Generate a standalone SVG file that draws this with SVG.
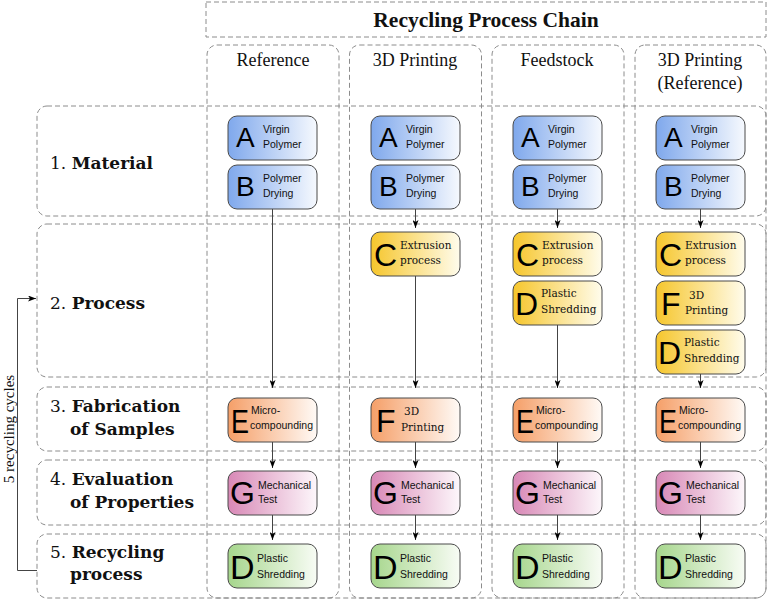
<svg xmlns="http://www.w3.org/2000/svg" width="768" height="600" viewBox="0 0 768 600">
<defs>
<style>
.box{fill:none;stroke:#8c8c8c;stroke-width:1;stroke-dasharray:5 3}
.nd{stroke:#4a4a4a;stroke-width:1}
.big{font-family:"Liberation Sans",Arial,sans-serif;fill:#000}
.sl{font-family:"Liberation Sans",Arial,sans-serif;font-size:10.5px;fill:#111}
.sr{font-family:"DejaVu Serif",serif;font-size:10.5px;fill:#111}
.hd{font-family:"Liberation Serif","Times New Roman",serif;font-size:18px;fill:#111;text-anchor:middle}
.rl{font-family:"DejaVu Serif",serif;font-size:17px;fill:#111}
.b{font-weight:bold}
.conn line,.conn path{stroke:#444;stroke-width:1;fill:none;marker-end:url(#ah)}
</style>
<marker id="ah" viewBox="0 0 8 6" refX="8" refY="3" markerWidth="8" markerHeight="6" markerUnits="userSpaceOnUse" orient="auto">
<path d="M0,0 L8,3 L0,6 L2,3 z" fill="#000"/>
</marker>
<linearGradient id="gB" x1="0" y1="0" x2="1" y2="0"><stop offset="0" stop-color="#7fa8ec"/><stop offset="1" stop-color="#f6f9fe"/></linearGradient>
<linearGradient id="gY" x1="0" y1="0" x2="1" y2="0"><stop offset="0" stop-color="#f6c62c"/><stop offset="1" stop-color="#fffcec"/></linearGradient>
<linearGradient id="gO" x1="0" y1="0" x2="1" y2="0"><stop offset="0" stop-color="#f59f68"/><stop offset="1" stop-color="#fffaf6"/></linearGradient>
<linearGradient id="gP" x1="0" y1="0" x2="1" y2="0"><stop offset="0" stop-color="#d888b6"/><stop offset="1" stop-color="#fdf7fb"/></linearGradient>
<linearGradient id="gG" x1="0" y1="0" x2="1" y2="0"><stop offset="0" stop-color="#a6d68c"/><stop offset="1" stop-color="#f8fcf5"/></linearGradient>
</defs>
<rect width="768" height="600" fill="#fff"/>

<g id="frames">
<rect class="box" x="206" y="2" width="560" height="35"/>
<rect class="box" x="207" y="45" width="132" height="553" rx="10"/>
<rect class="box" x="349.5" y="45" width="132" height="553" rx="10"/>
<rect class="box" x="492" y="45" width="132" height="553" rx="10"/>
<rect class="box" x="635" y="45" width="131" height="553" rx="10"/>
<rect class="box" x="37" y="106" width="729" height="110" rx="10"/>
<rect class="box" x="37" y="224" width="729" height="153" rx="10"/>
<rect class="box" x="37" y="387" width="729" height="64" rx="10"/>
<rect class="box" x="37" y="460" width="729" height="65" rx="10"/>
<rect class="box" x="37" y="534" width="729" height="64" rx="10"/>
</g>

<g id="headers">
<text x="486" y="27" font-family="'Liberation Serif','Times New Roman',serif" font-size="21.5" font-weight="bold" text-anchor="middle" fill="#111">Recycling Process Chain</text>
<text class="hd" x="273" y="66">Reference</text>
<text class="hd" x="415" y="66">3D Printing</text>
<text class="hd" x="557" y="66">Feedstock</text>
<text class="hd" x="700" y="66">3D Printing</text>
<text class="hd" x="700" y="89">(Reference)</text>
</g>

<g id="rowlabels">
<text class="rl" x="50" y="169">1. <tspan class="b">Material</tspan></text>
<text class="rl" x="50" y="309">2. <tspan class="b">Process</tspan></text>
<text class="rl" x="50" y="412">3. <tspan class="b">Fabrication</tspan></text>
<text class="rl b" x="70" y="435">of Samples</text>
<text class="rl" x="50" y="485">4. <tspan class="b">Evaluation</tspan></text>
<text class="rl b" x="70" y="508">of Properties</text>
<text class="rl" x="50" y="558">5. <tspan class="b">Recycling</tspan></text>
<text class="rl b" x="70" y="580">process</text>
</g>

<g class="conn" id="connectors">
<line x1="272.5" y1="209" x2="272.5" y2="388"/>
<line x1="415.5" y1="209" x2="415.5" y2="228"/>
<line x1="415.5" y1="276" x2="415.5" y2="388"/>
<line x1="557.5" y1="209" x2="557.5" y2="228"/>
<line x1="557.5" y1="325" x2="557.5" y2="388"/>
<line x1="700.5" y1="209" x2="700.5" y2="228"/>
<line x1="700.5" y1="374" x2="700.5" y2="388"/>
<line x1="272.5" y1="442" x2="272.5" y2="468"/>
<line x1="415.5" y1="442" x2="415.5" y2="468"/>
<line x1="557.5" y1="442" x2="557.5" y2="468"/>
<line x1="700.5" y1="442" x2="700.5" y2="468"/>
<line x1="272.5" y1="515" x2="272.5" y2="540"/>
<line x1="415.5" y1="515" x2="415.5" y2="540"/>
<line x1="557.5" y1="515" x2="557.5" y2="540"/>
<line x1="700.5" y1="515" x2="700.5" y2="540"/>
<path d="M37,570.5 H17.5 V298.5 H36"/>
</g>
<text x="14" y="429" transform="rotate(-90 14 429)" font-family="'Liberation Serif','Times New Roman',serif" font-size="15" text-anchor="middle" fill="#111">5 recycling cycles</text>

<!-- Row 1 -->
<g id="A1"><rect class="nd" x="228" y="116" width="89" height="44" rx="9" fill="url(#gB)"/><text class="big" x="236" y="147" font-size="28">A</text><text class="sl" x="263" y="133">Virgin</text><text class="sl" x="263" y="148">Polymer</text></g>
<g id="A2"><rect class="nd" x="371" y="116" width="89" height="44" rx="9" fill="url(#gB)"/><text class="big" x="379" y="147" font-size="28">A</text><text class="sl" x="406" y="133">Virgin</text><text class="sl" x="406" y="148">Polymer</text></g>
<g id="A3"><rect class="nd" x="513" y="116" width="89" height="44" rx="9" fill="url(#gB)"/><text class="big" x="521" y="147" font-size="28">A</text><text class="sl" x="548" y="133">Virgin</text><text class="sl" x="548" y="148">Polymer</text></g>
<g id="A4"><rect class="nd" x="656" y="116" width="89" height="44" rx="9" fill="url(#gB)"/><text class="big" x="664" y="147" font-size="28">A</text><text class="sl" x="691" y="133">Virgin</text><text class="sl" x="691" y="148">Polymer</text></g>

<g id="B1"><rect class="nd" x="228" y="165" width="89" height="44" rx="9" fill="url(#gB)"/><text class="big" x="236" y="196" font-size="28">B</text><text class="sl" x="263" y="182">Polymer</text><text class="sl" x="263" y="197">Drying</text></g>
<g id="B2"><rect class="nd" x="371" y="165" width="89" height="44" rx="9" fill="url(#gB)"/><text class="big" x="379" y="196" font-size="28">B</text><text class="sl" x="406" y="182">Polymer</text><text class="sl" x="406" y="197">Drying</text></g>
<g id="B3"><rect class="nd" x="513" y="165" width="89" height="44" rx="9" fill="url(#gB)"/><text class="big" x="521" y="196" font-size="28">B</text><text class="sl" x="548" y="182">Polymer</text><text class="sl" x="548" y="197">Drying</text></g>
<g id="B4"><rect class="nd" x="656" y="165" width="89" height="44" rx="9" fill="url(#gB)"/><text class="big" x="664" y="196" font-size="28">B</text><text class="sl" x="691" y="182">Polymer</text><text class="sl" x="691" y="197">Drying</text></g>

<!-- Row 2 -->
<g id="C2"><rect class="nd" x="371" y="232" width="89" height="44" rx="9" fill="url(#gY)"/><text class="big" x="374" y="266" font-size="32">C</text><text class="sr" x="400" y="249">Extrusion</text><text class="sr" x="400" y="264">process</text></g>
<g id="C3"><rect class="nd" x="513" y="232" width="89" height="44" rx="9" fill="url(#gY)"/><text class="big" x="516" y="266" font-size="32">C</text><text class="sr" x="542" y="249">Extrusion</text><text class="sr" x="542" y="264">process</text></g>
<g id="C4"><rect class="nd" x="656" y="232" width="89" height="44" rx="9" fill="url(#gY)"/><text class="big" x="659" y="266" font-size="32">C</text><text class="sr" x="685" y="249">Extrusion</text><text class="sr" x="685" y="264">process</text></g>
<g id="D3a"><rect class="nd" x="513" y="281" width="89" height="44" rx="9" fill="url(#gY)"/><text class="big" x="515" y="315" font-size="32">D</text><text class="sr" x="541" y="297">Plastic</text><text class="sr" x="541" y="313">Shredding</text></g>
<g id="F4a"><rect class="nd" x="656" y="281" width="89" height="44" rx="9" fill="url(#gY)"/><text class="big" x="661" y="315" font-size="32">F</text><text class="sr" x="689" y="299" font-size="10">3D</text><text class="sr" x="685" y="314" font-size="11">Printing</text></g>
<g id="D4a"><rect class="nd" x="656" y="330" width="89" height="44" rx="9" fill="url(#gY)"/><text class="big" x="658" y="364" font-size="32">D</text><text class="sr" x="684" y="346">Plastic</text><text class="sr" x="684" y="362">Shredding</text></g>

<!-- Row 3 -->
<g id="E1"><rect class="nd" x="228" y="398" width="89" height="44" rx="9" fill="url(#gO)"/><text class="big" x="231" y="433" font-size="34" textLength="18" lengthAdjust="spacingAndGlyphs">E</text><text class="sl" x="251" y="414">Micro-</text><text class="sl" x="250" y="429">compounding</text></g>
<g id="F2"><rect class="nd" x="371" y="398" width="89" height="44" rx="9" fill="url(#gO)"/><text class="big" x="376" y="432" font-size="32">F</text><text class="sr" x="404" y="415" font-size="10">3D</text><text class="sr" x="401" y="431" font-size="11">Printing</text></g>
<g id="E3"><rect class="nd" x="513" y="398" width="89" height="44" rx="9" fill="url(#gO)"/><text class="big" x="516" y="433" font-size="34" textLength="18" lengthAdjust="spacingAndGlyphs">E</text><text class="sl" x="536" y="414">Micro-</text><text class="sl" x="535" y="429">compounding</text></g>
<g id="E4"><rect class="nd" x="656" y="398" width="89" height="44" rx="9" fill="url(#gO)"/><text class="big" x="659" y="433" font-size="34" textLength="18" lengthAdjust="spacingAndGlyphs">E</text><text class="sl" x="679" y="414">Micro-</text><text class="sl" x="678" y="429">compounding</text></g>

<!-- Row 4 -->
<g id="G1"><rect class="nd" x="228" y="471" width="89" height="44" rx="9" fill="url(#gP)"/><text class="big" x="230" y="504" font-size="32">G</text><text class="sl" x="258" y="489">Mechanical</text><text class="sl" x="258" y="503">Test</text></g>
<g id="G2"><rect class="nd" x="371" y="471" width="89" height="44" rx="9" fill="url(#gP)"/><text class="big" x="373" y="504" font-size="32">G</text><text class="sl" x="401" y="489">Mechanical</text><text class="sl" x="401" y="503">Test</text></g>
<g id="G3"><rect class="nd" x="513" y="471" width="89" height="44" rx="9" fill="url(#gP)"/><text class="big" x="515" y="504" font-size="32">G</text><text class="sl" x="543" y="489">Mechanical</text><text class="sl" x="543" y="503">Test</text></g>
<g id="G4"><rect class="nd" x="656" y="471" width="89" height="44" rx="9" fill="url(#gP)"/><text class="big" x="658" y="504" font-size="32">G</text><text class="sl" x="686" y="489">Mechanical</text><text class="sl" x="686" y="503">Test</text></g>

<!-- Row 5 -->
<g id="D1"><rect class="nd" x="228" y="544" width="89" height="44" rx="9" fill="url(#gG)"/><text class="big" x="230" y="579" font-size="34">D</text><text class="sl" x="257" y="562" font-size="11.5">Plastic</text><text class="sl" x="257" y="578" font-size="11.5">Shredding</text></g>
<g id="D2"><rect class="nd" x="371" y="544" width="89" height="44" rx="9" fill="url(#gG)"/><text class="big" x="373" y="579" font-size="34">D</text><text class="sl" x="400" y="562" font-size="11.5">Plastic</text><text class="sl" x="400" y="578" font-size="11.5">Shredding</text></g>
<g id="D3"><rect class="nd" x="513" y="544" width="89" height="44" rx="9" fill="url(#gG)"/><text class="big" x="515" y="579" font-size="34">D</text><text class="sl" x="542" y="562" font-size="11.5">Plastic</text><text class="sl" x="542" y="578" font-size="11.5">Shredding</text></g>
<g id="D4"><rect class="nd" x="656" y="544" width="89" height="44" rx="9" fill="url(#gG)"/><text class="big" x="658" y="579" font-size="34">D</text><text class="sl" x="685" y="562" font-size="11.5">Plastic</text><text class="sl" x="685" y="578" font-size="11.5">Shredding</text></g>
</svg>
